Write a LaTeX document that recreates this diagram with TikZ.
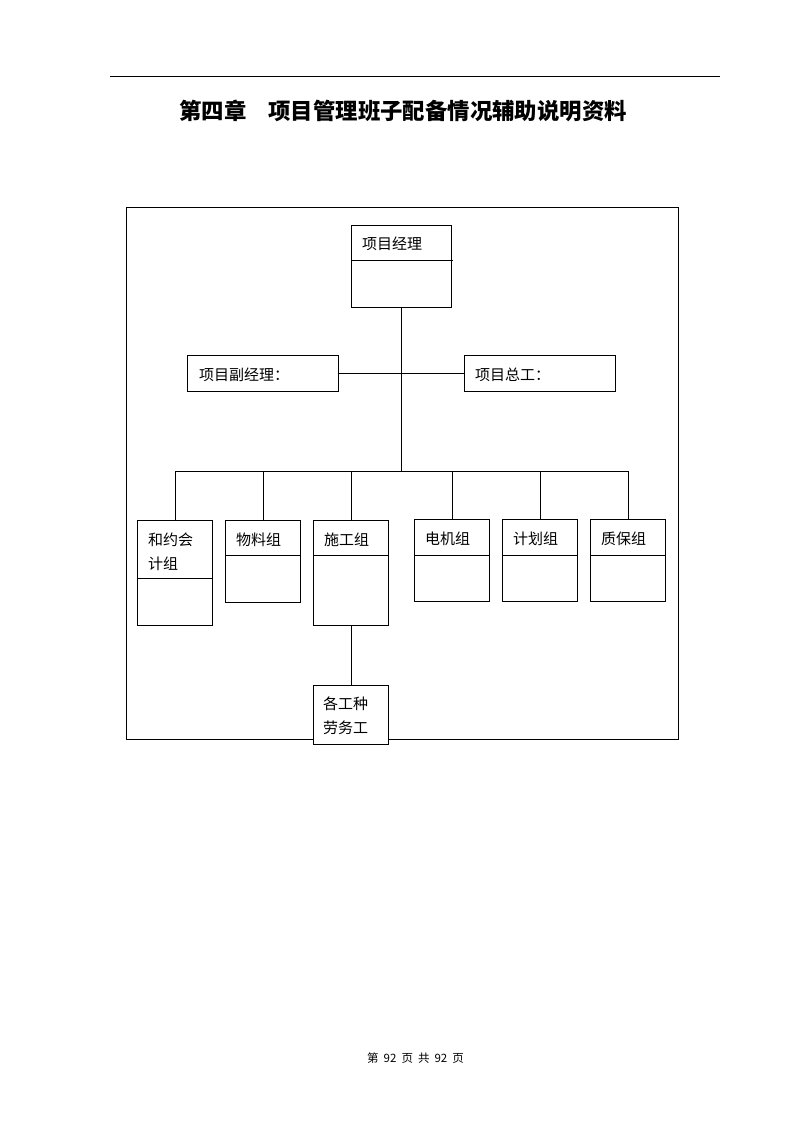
\documentclass[tikz,border=0pt]{standalone}
\usepackage{fontspec}
\newfontfamily\cjk{Noto Sans CJK SC}
\begin{document}
\begin{tikzpicture}[x=1pt,y=-1pt,
  lw/.style={line width=0.9pt},
  box/.style={draw,lw,fill=white,minimum width=75pt,inner sep=0pt,outer sep=0pt},
  lbl/.style={anchor=west,inner sep=0pt,font=\cjk\fontsize{15}{24}\selectfont,align=left}]
\useasboundingbox (0,0) rectangle (794,1123);
% header rule and title
\draw[line width=1pt] (110,77) -- (720,77);
\node[inner sep=0pt,font=\cjk\bfseries\fontsize{22.4}{26}\selectfont] (title) at (403,111) {第四章\hspace{22pt}项目管理班子配备情况辅助说明资料};
% frame
\draw[lw] (126,207) rectangle (678,739);
% top box
\node[box,minimum width=100pt,minimum height=82pt] (pm) at (401,266) {};
\draw[lw] (pm.west |- 0,260) -- (453,260);
\node[lbl] (tpm) at (362,244) {项目经理};
% side boxes
\node[box,minimum width=151pt,minimum height=36pt] (vl) at (262.5,373) {};
\node[lbl] (tvl) at (199,375) {项目副经理：};
\node[box,minimum width=151pt,minimum height=36pt] (vr) at (539.5,373) {};
\node[lbl] (tvr) at (475,375) {项目总工：};
% connectors top
\coordinate (busmid) at (401,471);
\draw[lw] (pm.south) -- (busmid);
\draw[lw] (vl.east) -- (vr.west);
\coordinate (busL) at (175,471);
\coordinate (busR) at (628,471);
\draw[lw] (busL) -- (busR);
% bottom boxes
\node[box,minimum height=105pt] (A) at (175,572.5) {};
\draw[lw] (A.west |- 0,578) -- (A.east |- 0,578);
\node[lbl] (tA) at (148,552) {和约会\\计组};
\node[box,minimum height=82pt] (B) at (263,561) {};
\draw[lw] (B.west |- 0,555) -- (B.east |- 0,555);
\node[lbl] (tB) at (236,540) {物料组};
\node[box,minimum height=105pt] (C) at (351,572.5) {};
\draw[lw] (C.west |- 0,555) -- (C.east |- 0,555);
\node[lbl] (tC) at (324,540) {施工组};
\node[box,minimum height=82pt] (D) at (452,560) {};
\draw[lw] (D.west |- 0,555) -- (D.east |- 0,555);
\node[lbl] (tD) at (425,539) {电机组};
\node[box,minimum height=82pt] (E) at (540,560) {};
\draw[lw] (E.west |- 0,555) -- (E.east |- 0,555);
\node[lbl] (tE) at (513,539) {计划组};
\node[box,minimum height=82pt] (F) at (628,560) {};
\draw[lw] (F.west |- 0,555) -- (F.east |- 0,555);
\node[lbl] (tF) at (601,539) {质保组};
\foreach \n in {A,B,C,D,E,F}{\draw[lw] (\n.north) -- (\n.north |- busL);}
% labour box
\node[box,minimum height=59pt] (G) at (351,714.5) {};
\node[lbl] (tG) at (323,716) {各工种\\劳务工};
\draw[lw] (C.south) -- (G.north);
% footer
\node[inner sep=0pt,font=\cjk\fontsize{11.5}{13}\selectfont] (foot) at (415.5,1058) {第\hspace{5pt}92\hspace{5pt}页\hspace{5pt}共\hspace{5pt}92\hspace{5pt}页};
\end{tikzpicture}
\end{document}
